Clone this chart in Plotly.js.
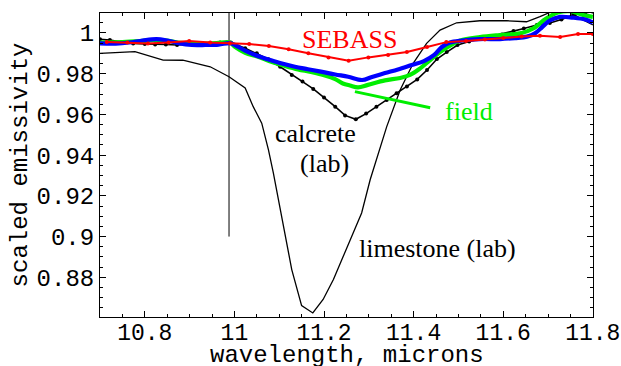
<!DOCTYPE html>
<html>
<head>
<meta charset="utf-8">
<script src="https://cdn.plot.ly/plotly-3.0.1.min.js"></script>
<style>html,body{margin:0;padding:0;background:#fff;}#chart{width:621px;height:366px;}</style>
</head>
<body>
<div id="chart"></div>
<script>
// Limestone (lab) - thin black
const limestoneX = [10.700,10.778,10.841,10.885,10.946,10.988,11.024,11.042,11.061,11.076,11.087,11.106,11.118,11.128,11.150,11.175,11.198,11.221,11.243,11.266,11.284,11.303,11.340,11.370,11.399,11.429,11.459,11.496,11.548,11.608,11.652,11.682,11.704,11.722,11.742,11.771,11.800];
const limestoneY = [0.9900,0.9908,0.9867,0.9866,0.9834,0.9785,0.9730,0.9638,0.9557,0.9426,0.9312,0.9099,0.8952,0.8838,0.8661,0.8625,0.8691,0.8789,0.8903,0.9018,0.9116,0.9279,0.9540,0.9720,0.9851,0.9949,1.0014,1.0050,1.0060,1.0060,1.0055,1.0080,1.0099,1.0118,1.0112,1.0073,1.0039];

// Calcrete (lab) - black with dots
const calcreteX = [10.700,10.722,10.749,10.774,10.800,10.823,10.847,10.872,10.896,10.921,10.946,10.968,10.992,11.024,11.050,11.076,11.102,11.128,11.152,11.176,11.200,11.225,11.247,11.271,11.294,11.317,11.340,11.362,11.385,11.408,11.430,11.452,11.474,11.498,11.524,11.548,11.571,11.597,11.623,11.646,11.675,11.704,11.730,11.756,11.783,11.800];
const calcreteY = [0.9969,0.9965,0.9955,0.9948,0.9946,0.9943,0.9943,0.9941,0.9946,0.9948,0.9950,0.9953,0.9953,0.9925,0.9900,0.9871,0.9834,0.9794,0.9761,0.9725,0.9683,0.9638,0.9595,0.9576,0.9604,0.9638,0.9671,0.9704,0.9737,0.9772,0.9818,0.9872,0.9906,0.9941,0.9958,0.9970,0.9981,0.9993,1.0009,1.0022,1.0039,1.0049,1.0066,1.0088,1.0099,1.0105];

// Field (green)
const fieldX = [10.700,10.750,10.790,10.820,10.850,10.880,10.920,10.960,10.990,11.001,11.024,11.053,11.084,11.113,11.142,11.171,11.202,11.225,11.242,11.258,11.276,11.298,11.336,11.370,11.392,11.414,11.437,11.459,11.481,11.504,11.548,11.593,11.638,11.667,11.696,11.722,11.749,11.778,11.800];
const fieldY = [0.9953,0.9955,0.9960,0.9965,0.9962,0.9952,0.9946,0.9950,0.9953,0.9932,0.9903,0.9883,0.9857,0.9838,0.9821,0.9808,0.9791,0.9773,0.9752,0.9742,0.9733,0.9745,0.9767,0.9779,0.9794,0.9825,0.9867,0.9906,0.9938,0.9963,0.9980,0.9990,0.9998,1.0022,1.0071,1.0100,1.0107,1.0088,1.0079];

// Second field spectrum (blue)
const blueX = [10.700,10.735,10.765,10.795,10.826,10.850,10.875,10.905,10.935,10.965,10.990,11.001,11.024,11.046,11.075,11.104,11.135,11.164,11.193,11.225,11.254,11.285,11.307,11.336,11.365,11.396,11.423,11.446,11.463,11.481,11.508,11.548,11.593,11.626,11.653,11.671,11.687,11.704,11.727,11.756,11.783,11.800];
const blueY = [0.9949,0.9948,0.9953,0.9963,0.9970,0.9963,0.9950,0.9941,0.9941,0.9943,0.9950,0.9941,0.9913,0.9892,0.9871,0.9851,0.9834,0.9822,0.9810,0.9796,0.9785,0.9769,0.9784,0.9803,0.9821,0.9843,0.9862,0.9892,0.9931,0.9953,0.9963,0.9970,0.9970,0.9975,0.9982,0.9998,1.0029,1.0061,1.0079,1.0075,1.0066,1.0051];

// SEBASS (red)
const sebassX = [10.715,10.761,10.807,10.853,10.899,10.946,10.990,11.033,11.077,11.121,11.165,11.210,11.255,11.299,11.343,11.385,11.430,11.473,11.517,11.559,11.600,11.641,11.682,11.727,11.767,11.800];
const sebassY = [0.9955,0.9953,0.9948,0.9953,0.9960,0.9953,0.9950,0.9946,0.9936,0.9920,0.9900,0.9880,0.9863,0.9880,0.9892,0.9906,0.9931,0.9955,0.9960,0.9968,0.9975,0.9982,0.9986,0.9980,0.9995,0.9995];

// vertical reference line and field pointer
const refLineX = [10.988, 10.988];
const refLineY = [0.900, 1.012];
const pointerX = [11.269, 11.437];
const pointerY = [0.9712, 0.9633];

const xTicks = [10.8, 11, 11.2, 11.4, 11.6, 11.8];
const yTicks = [0.88, 0.9, 0.92, 0.94, 0.96, 0.98, 1];

const xRange = [10.7, 11.8004];
const yRange = [0.8605, 1.0098];

const traces = [
  {x: refLineX, y: refLineY, mode: 'lines', line: {color: '#000', width: 1}, hoverinfo: 'skip'},
  {x: limestoneX, y: limestoneY, mode: 'lines', line: {color: '#000', width: 1.3}},
  {x: calcreteX, y: calcreteY, mode: 'lines+markers', line: {color: '#000', width: 1.6}, marker: {color: '#000', size: 4}},
  {x: fieldX, y: fieldY, mode: 'lines', line: {color: '#00ee00', width: 4.2, shape: 'spline'}},
  {x: blueX, y: blueY, mode: 'lines', line: {color: '#0000ff', width: 4.2, shape: 'spline'}},
  {x: sebassX, y: sebassY, mode: 'lines+markers', line: {color: '#ff0000', width: 2}, marker: {color: '#ff0000', size: 4}},
  {x: pointerX, y: pointerY, mode: 'lines', line: {color: '#00ee00', width: 3}},
  // invisible trace to anchor mirrored tick axes (top / right)
  {x: [xRange[0]], y: [yRange[0]], xaxis: 'x2', yaxis: 'y2', mode: 'markers', marker: {opacity: 0}, hoverinfo: 'skip'}
];

const serif = 'Liberation Serif, Times New Roman, serif';
const mono = 'Liberation Mono, Courier New, monospace';

const layout = {
  width: 621, height: 366,
  margin: {l: 100, r: 28, t: 13, b: 49},
  paper_bgcolor: '#fff', plot_bgcolor: '#fff',
  showlegend: false,
  font: {family: mono, size: 24, color: '#000'},
  xaxis: {
    range: xRange, tickvals: xTicks, ticktext: xTicks.map(String),
    ticks: 'inside', ticklen: 6, tickwidth: 1, tickcolor: '#000',
    minor: {dtick: 0.05, tick0: 10.7, ticks: 'inside', ticklen: 3, tickcolor: '#000', showgrid: false},
    showline: true, linecolor: '#000', linewidth: 1,
    showgrid: false, zeroline: false, ticklabelstandoff: -6, ticklabeloverflow: 'allow',
    tickfont: {family: mono, size: 23, color: '#000'}
  },
  yaxis: {
    range: yRange, tickvals: yTicks, ticktext: yTicks.map(String),
    ticks: 'inside', ticklen: 6, tickwidth: 1, tickcolor: '#000',
    minor: {dtick: 0.005, tick0: 0.86, ticks: 'inside', ticklen: 3, tickcolor: '#000', showgrid: false},
    showline: true, linecolor: '#000', linewidth: 1,
    showgrid: false, zeroline: false,
    tickfont: {family: mono, size: 24, color: '#000'},
    title: {text: 'scaled emissivity', font: {family: mono, size: 24, color: '#000'}, standoff: 2}
  },
  xaxis2: {
    overlaying: 'x', side: 'top', anchor: 'y2', range: xRange, tickvals: xTicks,
    showticklabels: false, ticks: 'inside', ticklen: 6, tickcolor: '#000',
    minor: {dtick: 0.05, tick0: 10.7, ticks: 'inside', ticklen: 3, tickcolor: '#000', showgrid: false},
    showline: true, linecolor: '#000', linewidth: 1, showgrid: false, zeroline: false
  },
  yaxis2: {
    overlaying: 'y', side: 'right', anchor: 'x2', range: yRange, tickvals: yTicks,
    showticklabels: false, ticks: 'inside', ticklen: 6, tickcolor: '#000',
    minor: {dtick: 0.005, tick0: 0.86, ticks: 'inside', ticklen: 3, tickcolor: '#000', showgrid: false},
    showline: true, linecolor: '#000', linewidth: 1, showgrid: false, zeroline: false
  },
  annotations: [
    {x: 0.5, y: -0.125, xref: 'paper', yref: 'paper', yanchor: 'middle', text: 'wavelength, microns', showarrow: false, font: {family: mono, size: 24, color: '#000'}},
    {x: 11.258, y: 0.9966, xref: 'x', yref: 'y', text: 'SEBASS', showarrow: false, font: {family: serif, size: 26, color: '#ff0000'}},
    {x: 11.523, y: 0.9612, xref: 'x', yref: 'y', text: 'field', showarrow: false, font: {family: serif, size: 26, color: '#00ee00'}},
    {x: 11.182, y: 0.9505, xref: 'x', yref: 'y', text: 'calcrete', showarrow: false, font: {family: serif, size: 26, color: '#000'}},
    {x: 11.202, y: 0.9360, xref: 'x', yref: 'y', text: '(lab)', showarrow: false, font: {family: serif, size: 26, color: '#000'}},
    {x: 11.454, y: 0.8940, xref: 'x', yref: 'y', text: 'limestone (lab)', showarrow: false, font: {family: serif, size: 26, color: '#000'}}
  ]
};

Plotly.newPlot('chart', traces, layout, {staticPlot: true, displayModeBar: false});
</script>
</body>
</html>
